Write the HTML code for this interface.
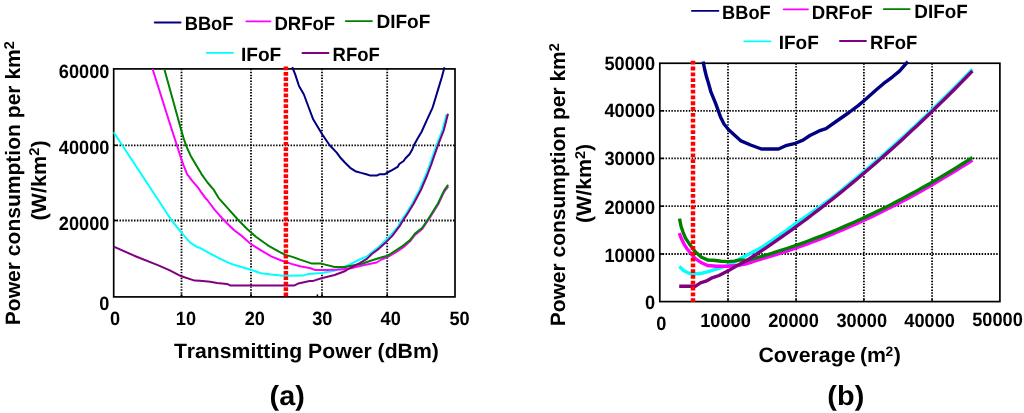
<!DOCTYPE html>
<html><head><meta charset="utf-8"><title>Power consumption charts</title>
<style>
html,body{margin:0;padding:0;background:#fff;}
body{width:1024px;height:413px;overflow:hidden;}
svg{display:block;will-change:transform;}
text{font-family:"Liberation Sans", sans-serif;font-weight:bold;fill:#000;text-rendering:geometricPrecision;font-kerning:none;font-feature-settings:'kern' 0;}
.grid{stroke:#000;stroke-width:1.8;stroke-dasharray:1.45 1.45;}
.tick{stroke:#000;stroke-width:1.5;}
</style></head>
<body>
<svg width="1024" height="413" viewBox="0 0 1024 413">
<rect x="0" y="0" width="1024" height="413" fill="#fff"/>
<line x1="181.5" y1="68.9" x2="181.5" y2="296.9" class="grid"/>
<line x1="181.5" y1="296.9" x2="181.5" y2="294.1" class="tick"/>
<line x1="251.0" y1="68.9" x2="251.0" y2="296.9" class="grid"/>
<line x1="251.0" y1="296.9" x2="251.0" y2="294.1" class="tick"/>
<line x1="322.0" y1="68.9" x2="322.0" y2="296.9" class="grid"/>
<line x1="322.0" y1="296.9" x2="322.0" y2="294.1" class="tick"/>
<line x1="387.2" y1="68.9" x2="387.2" y2="296.9" class="grid"/>
<line x1="387.2" y1="296.9" x2="387.2" y2="294.1" class="tick"/>
<line x1="113.7" y1="145.3" x2="455.0" y2="145.3" class="grid"/>
<line x1="113.7" y1="145.3" x2="117.2" y2="145.3" class="tick"/>
<line x1="113.7" y1="220.5" x2="455.0" y2="220.5" class="grid"/>
<line x1="113.7" y1="220.5" x2="117.2" y2="220.5" class="tick"/>
<line x1="317.4" y1="296.9" x2="317.4" y2="294.4" class="tick"/>
<rect x="113.7" y="68.9" width="341.30" height="228.00" fill="none" stroke="#000" stroke-width="1.7"/>
<polyline points="292.3,67.2 295.2,74.4 299.0,86.0 303.9,94.5 308.9,108.0 313.3,119.6 322.0,134.1 329.5,145.0 336.7,152.6 340.0,157.2 345.1,162.7 350.2,167.8 355.3,171.2 361.2,172.9 366.3,174.2 369.7,175.4 377.3,175.4 379.8,174.2 384.9,174.2 387.5,172.5 392.5,169.9 397.6,166.9 399.3,164.0 403.6,161.0 405.3,158.5 409.5,154.2 412.0,150.0 413.9,145.3 417.9,138.0 421.5,132.0 427.3,119.1 432.7,107.3 438.2,89.1 441.8,77.3 444.5,67.3" fill="none" stroke="#000080" stroke-width="2.0" stroke-linejoin="round" stroke-linecap="butt"/>
<polyline points="113.7,132.3 171.7,220.5 181.5,232.7 189.9,242.4 197.2,247.2 200.0,247.8 210.2,253.7 220.3,258.8 230.5,263.6 240.7,266.8 250.8,269.8 261.0,273.2 271.2,274.6 283.0,275.8 302.9,275.6 308.7,273.9 321.3,273.0 333.3,271.0 344.0,267.0 350.0,264.3 359.7,259.5 366.9,256.5 371.8,252.2 379.0,246.8 386.3,239.5 392.3,233.5 398.4,226.2 399.7,223.0 406.3,213.2 412.1,203.8 419.4,190.0 425.8,175.0 429.7,164.6 436.4,145.3 442.4,130.0 446.5,114.5" fill="none" stroke="#00ffff" stroke-width="2.0" stroke-linejoin="round" stroke-linecap="butt"/>
<polyline points="152.6,69.0 171.9,130.0 176.9,145.3 181.2,158.8 183.7,165.6 187.1,174.1 192.2,180.8 198.1,187.6 201.5,192.7 205.8,198.6 207.3,200.0 214.5,209.6 224.2,220.5 233.9,230.0 240.7,235.1 250.8,244.0 261.0,250.3 271.2,256.3 281.4,260.5 291.5,263.9 300.0,266.3 310.7,268.3 314.6,269.9 326.6,269.9 340.0,269.4 350.0,268.5 362.1,265.5 376.6,262.5 381.5,259.5 387.5,257.1 396.0,252.2 403.2,247.4 410.0,241.3 415.0,235.0 422.3,229.0 430.0,217.5 438.1,204.5 443.9,192.2 448.3,186.5" fill="none" stroke="#ff00ff" stroke-width="2.0" stroke-linejoin="round" stroke-linecap="butt"/>
<polyline points="164.3,69.0 181.2,130.0 183.7,138.5 186.3,146.1 190.5,155.4 196.4,165.6 201.5,174.1 207.5,182.5 213.4,189.3 218.5,197.8 229.0,209.6 238.7,220.5 247.2,229.0 255.9,236.8 267.8,245.3 278.0,251.2 284.7,254.6 293.2,257.1 300.0,259.6 312.0,263.6 321.3,263.6 334.6,267.0 345.3,267.0 350.0,266.1 362.1,263.7 370.6,260.7 380.2,257.7 387.5,255.8 396.0,250.4 403.2,245.6 410.0,240.1 415.0,233.6 422.3,227.8 430.0,216.2 438.1,203.2 443.9,190.9 448.1,184.7" fill="none" stroke="#008000" stroke-width="2.0" stroke-linejoin="round" stroke-linecap="butt"/>
<polyline points="113.7,246.7 134.2,255.7 158.4,265.4 169.3,270.2 181.4,276.3 194.7,280.6 200.0,280.8 210.2,281.7 217.0,283.0 227.1,283.9 230.5,285.6 294.0,285.6 298.1,283.6 302.9,282.6 309.7,281.1 313.3,280.9 321.3,278.3 334.6,275.0 345.3,271.0 350.0,268.0 359.7,263.1 366.9,258.9 371.8,254.0 379.0,248.6 386.3,241.9 392.3,235.9 399.6,226.2 401.2,223.4 407.8,213.2 413.6,203.8 420.9,190.0 427.3,175.0 431.2,164.6 437.9,145.3 443.9,130.0 448.0,113.7" fill="none" stroke="#800080" stroke-width="2.0" stroke-linejoin="round" stroke-linecap="butt"/>
<line x1="285.9" y1="66.6" x2="285.9" y2="297.2" stroke="#ff0000" stroke-width="4.5" stroke-dasharray="3.7 1.68"/>
<line x1="728.0" y1="63.25" x2="728.0" y2="301.6" class="grid"/>
<line x1="728.0" y1="301.6" x2="728.0" y2="298.8" class="tick"/>
<line x1="796.1" y1="63.25" x2="796.1" y2="301.6" class="grid"/>
<line x1="796.1" y1="301.6" x2="796.1" y2="298.8" class="tick"/>
<line x1="863.9" y1="63.25" x2="863.9" y2="301.6" class="grid"/>
<line x1="863.9" y1="301.6" x2="863.9" y2="298.8" class="tick"/>
<line x1="932.1" y1="63.25" x2="932.1" y2="301.6" class="grid"/>
<line x1="932.1" y1="301.6" x2="932.1" y2="298.8" class="tick"/>
<line x1="659.8" y1="110.8" x2="999.9" y2="110.8" class="grid"/>
<line x1="659.8" y1="110.8" x2="663.3" y2="110.8" class="tick"/>
<line x1="659.8" y1="158.4" x2="999.9" y2="158.4" class="grid"/>
<line x1="659.8" y1="158.4" x2="663.3" y2="158.4" class="tick"/>
<line x1="659.8" y1="206.2" x2="999.9" y2="206.2" class="grid"/>
<line x1="659.8" y1="206.2" x2="663.3" y2="206.2" class="tick"/>
<line x1="659.8" y1="254.0" x2="999.9" y2="254.0" class="grid"/>
<line x1="659.8" y1="254.0" x2="663.3" y2="254.0" class="tick"/>
<rect x="659.8" y="63.25" width="340.10" height="238.35" fill="none" stroke="#000" stroke-width="1.7"/>
<polyline points="703.1,61.5 704.7,69.5 706.5,76.8 708.7,84.0 710.7,91.3 715.6,103.4 720.4,116.7 724.0,124.0 728.9,130.0 741.0,140.9 750.6,145.0 761.5,149.0 778.5,149.0 785.7,145.7 795.4,143.3 803.0,140.1 809.9,135.5 819.1,130.9 826.0,128.6 837.5,120.5 849.0,112.5 858.2,105.6 865.1,99.8 876.6,89.5 883.4,83.7 892.6,76.8 899.5,71.1 907.8,61.7" fill="none" stroke="#000080" stroke-width="3.4" stroke-linejoin="round" stroke-linecap="butt"/>
<polyline points="679.4,266.5 683.5,270.4 689.0,273.2 695.0,273.9 701.5,273.3 708.1,271.7 716.8,269.0 727.7,265.5 735.9,261.0 746.8,255.2 757.7,249.4 761.8,247.3 766.8,244.0 771.8,240.6 776.8,237.1 781.8,233.6 786.8,230.1 791.8,226.5 796.8,222.9 801.8,219.3 806.8,215.9 811.8,212.4 816.8,208.9 821.8,205.3 826.8,201.7 831.8,198.0 836.8,194.0 841.8,190.0 846.8,185.9 851.8,181.8 856.8,177.6 861.8,173.4 866.8,169.2 871.8,164.9 876.8,160.6 881.8,156.2 886.8,151.8 891.8,147.3 896.8,142.8 901.8,138.3 906.8,133.7 911.8,129.0 916.8,124.4 921.8,119.6 926.8,114.9 931.8,110.1 936.8,105.2 941.8,100.3 946.8,95.4 951.8,90.4 956.8,85.4 961.8,80.3 966.8,75.2 971.8,70.0 972.4,69.4" fill="none" stroke="#00ffff" stroke-width="3.4" stroke-linejoin="round" stroke-linecap="butt"/>
<polyline points="679.2,233.2 681.6,239.1 684.5,244.9 687.0,248.7 690.5,253.0 695.0,258.3 701.5,262.8 707.5,265.5 716.8,266.2 727.7,266.2 738.6,265.2 745.0,264.1 752.0,262.0 756.8,260.3 761.8,258.9 766.8,257.4 771.8,255.9 776.8,254.3 781.8,252.7 786.8,251.1 791.8,249.4 796.8,247.7 801.8,245.9 806.8,244.1 811.8,242.2 816.8,240.3 821.8,238.4 826.8,236.4 831.8,234.4 836.8,232.3 841.8,230.2 846.8,228.0 851.8,225.8 856.8,223.6 861.8,221.3 866.8,219.0 871.8,216.6 876.8,214.2 881.8,211.8 886.8,209.3 891.8,206.8 896.8,204.2 901.8,201.6 906.8,198.9 911.8,196.2 916.8,193.5 921.8,190.7 926.8,187.8 931.8,185.0 936.8,182.1 941.8,179.1 946.8,176.1 951.8,173.1 956.8,170.0 961.8,166.8 966.8,163.7 971.8,160.5 972.4,160.1" fill="none" stroke="#ff00ff" stroke-width="3.4" stroke-linejoin="round" stroke-linecap="butt"/>
<polyline points="679.5,218.7 681.1,226.5 683.1,232.3 685.5,238.1 689.4,243.9 692.3,247.8 695.0,251.5 701.5,257.3 708.1,260.1 713.5,260.3 721.1,261.3 727.7,261.6 734.2,261.1 740.8,259.9 746.8,260.4 751.8,259.1 756.8,257.7 761.8,256.3 766.8,254.8 771.8,253.3 776.8,251.7 781.8,250.1 786.8,248.5 791.8,246.8 796.8,245.1 801.8,243.3 806.8,241.5 811.8,239.6 816.8,237.7 821.8,235.8 826.8,233.8 831.8,231.8 836.8,229.7 841.8,227.6 846.8,225.4 851.8,223.2 856.8,221.0 861.8,218.7 866.8,216.4 871.8,214.0 876.8,211.6 881.8,209.2 886.8,206.7 891.8,204.2 896.8,201.6 901.8,199.0 906.8,196.3 911.8,193.6 916.8,190.9 921.8,188.1 926.8,185.2 931.8,182.4 936.8,179.5 941.8,176.5 946.8,173.5 951.8,170.5 956.8,167.4 961.8,164.2 966.8,161.1 971.8,157.9 972.4,157.5" fill="none" stroke="#008000" stroke-width="3.4" stroke-linejoin="round" stroke-linecap="butt"/>
<polyline points="679.2,286.3 695.2,286.3 700.4,282.8 705.9,281.2 711.3,278.2 719.0,275.5 727.7,271.1 735.9,266.3 746.8,260.5 751.8,257.2 756.8,254.0 761.8,250.6 766.8,247.3 771.8,243.9 776.8,240.4 781.8,236.9 786.8,233.4 791.8,229.8 796.8,226.2 801.8,222.5 806.8,218.8 811.8,215.0 816.8,211.2 821.8,207.4 826.8,203.5 831.8,199.6 836.8,195.6 841.8,191.6 846.8,187.5 851.8,183.4 856.8,179.2 861.8,175.0 866.8,170.8 871.8,166.5 876.8,162.2 881.8,157.8 886.8,153.4 891.8,148.9 896.8,144.4 901.8,139.9 906.8,135.3 911.8,130.6 916.8,126.0 921.8,121.2 926.8,116.5 931.8,111.7 936.8,106.8 941.8,101.9 946.8,97.0 951.8,92.0 956.8,87.0 961.8,81.9 966.8,76.8 971.8,71.6 972.4,71.0" fill="none" stroke="#800080" stroke-width="3.4" stroke-linejoin="round" stroke-linecap="butt"/>
<line x1="693.0" y1="60.8" x2="693.0" y2="302.6" stroke="#ff0000" stroke-width="4.5" stroke-dasharray="3.8 1.99"/>
<line x1="154.7" y1="22.5" x2="180.6" y2="22.5" stroke="#000080" stroke-width="1.8" stroke-linecap="round"/>
<text transform="translate(185.90,29.95) scale(0.9533,1)" x="-1.28" font-size="19.2">BBoF</text>
<line x1="246.3" y1="21.3" x2="270.5" y2="21.3" stroke="#ff00ff" stroke-width="1.8" stroke-linecap="round"/>
<text transform="translate(275.60,30.15) scale(0.9667,1)" x="-1.28" font-size="19.2">DRFoF</text>
<line x1="345.7" y1="21.1" x2="372.0" y2="21.1" stroke="#008000" stroke-width="1.8" stroke-linecap="round"/>
<text transform="translate(377.70,28.45) scale(0.9924,1)" x="-1.28" font-size="19.2">DIFoF</text>
<line x1="206.7" y1="52.8" x2="233.1" y2="52.8" stroke="#00ffff" stroke-width="1.8" stroke-linecap="round"/>
<text transform="translate(242.20,60.80) scale(0.9966,1)" x="-1.28" font-size="19.2">IFoF</text>
<line x1="302.4" y1="53.0" x2="328.5" y2="53.0" stroke="#800080" stroke-width="1.8" stroke-linecap="round"/>
<text transform="translate(333.80,60.75) scale(0.9625,1)" x="-1.28" font-size="19.2">RFoF</text>
<line x1="691.9" y1="10.8" x2="718.5" y2="10.8" stroke="#000080" stroke-width="1.8" stroke-linecap="round"/>
<text transform="translate(723.30,19.25) scale(0.9492,1)" x="-1.28" font-size="19.2">BBoF</text>
<line x1="783.6" y1="9.3" x2="808.0" y2="9.3" stroke="#ff00ff" stroke-width="1.8" stroke-linecap="round"/>
<text transform="translate(813.00,19.35) scale(0.9667,1)" x="-1.28" font-size="19.2">DRFoF</text>
<line x1="883.8" y1="9.2" x2="909.6" y2="9.2" stroke="#008000" stroke-width="1.8" stroke-linecap="round"/>
<text transform="translate(915.60,18.25) scale(0.9810,1)" x="-1.28" font-size="19.2">DIFoF</text>
<line x1="744.2" y1="41.3" x2="770.5" y2="41.3" stroke="#00ffff" stroke-width="1.8" stroke-linecap="round"/>
<text transform="translate(780.00,49.25) scale(0.9888,1)" x="-1.28" font-size="19.2">IFoF</text>
<line x1="839.9" y1="41.0" x2="866.0" y2="41.0" stroke="#800080" stroke-width="1.8" stroke-linecap="round"/>
<text transform="translate(871.30,49.15) scale(0.9625,1)" x="-1.28" font-size="19.2">RFoF</text>
<text transform="translate(109.45,77.50) scale(0.9479,1)" font-size="19.2" text-anchor="end">60000</text>
<text transform="translate(109.45,153.70) scale(0.9479,1)" font-size="19.2" text-anchor="end">40000</text>
<text transform="translate(109.45,229.70) scale(0.9479,1)" font-size="19.2" text-anchor="end">20000</text>
<text transform="translate(109.45,309.60) scale(0.9479,1)" font-size="19.2" text-anchor="end">0</text>
<text transform="translate(115.11,324.60) scale(0.9479,1)" font-size="19.2" text-anchor="middle">0</text>
<text transform="translate(185.90,324.60) scale(0.9479,1)" font-size="19.2" text-anchor="middle">10</text>
<text transform="translate(254.76,324.60) scale(0.9479,1)" font-size="19.2" text-anchor="middle">20</text>
<text transform="translate(322.26,324.60) scale(0.9479,1)" font-size="19.2" text-anchor="middle">30</text>
<text transform="translate(390.74,324.60) scale(0.9479,1)" font-size="19.2" text-anchor="middle">40</text>
<text transform="translate(459.59,324.60) scale(0.9479,1)" font-size="19.2" text-anchor="middle">50</text>
<text transform="translate(655.05,69.60) scale(0.9479,1)" font-size="19.2" text-anchor="end">50000</text>
<text transform="translate(655.05,117.30) scale(0.9479,1)" font-size="19.2" text-anchor="end">40000</text>
<text transform="translate(655.05,165.00) scale(0.9479,1)" font-size="19.2" text-anchor="end">30000</text>
<text transform="translate(655.05,213.70) scale(0.9479,1)" font-size="19.2" text-anchor="end">20000</text>
<text transform="translate(655.05,261.60) scale(0.9479,1)" font-size="19.2" text-anchor="end">10000</text>
<text transform="translate(655.05,309.10) scale(0.9479,1)" font-size="19.2" text-anchor="end">0</text>
<text transform="translate(661.41,329.80) scale(0.9479,1)" font-size="19.2" text-anchor="middle">0</text>
<text transform="translate(725.50,326.70) scale(0.9479,1)" font-size="19.2" text-anchor="middle">10000</text>
<text transform="translate(793.46,326.70) scale(0.9479,1)" font-size="19.2" text-anchor="middle">20000</text>
<text transform="translate(861.76,326.70) scale(0.9479,1)" font-size="19.2" text-anchor="middle">30000</text>
<text transform="translate(929.64,326.70) scale(0.9479,1)" font-size="19.2" text-anchor="middle">40000</text>
<text transform="translate(997.54,326.30) scale(0.9479,1)" font-size="19.2" text-anchor="middle">50000</text>
<text transform="translate(174.1,358.0) scale(1.0190,1)" x="-0.23" font-size="20.8">Transmitting Power (dBm)</text>
<text transform="translate(759.3,361.6) scale(1.0250,1)" x="-0.85" font-size="20.8">Coverage<tspan dx="-1.5"> (m</tspan><tspan font-size="13.5" dy="-6" dx="-0.6">2</tspan><tspan dy="6" dx="0.6">)</tspan></text>
<text transform="translate(19.9,323.8) rotate(-90) scale(1.0120,1)" x="-1.39" font-size="20.8">Power consumption per km<tspan font-size="14.2" dy="-6.2">2</tspan></text>
<text transform="translate(45.5,219.5) rotate(-90) scale(1.0380,1)" x="-1.04" font-size="20.8">(W/km<tspan font-size="14.2" dy="-6.2">2</tspan><tspan dy="6.2">)</tspan></text>
<text transform="translate(564.8,324.9) rotate(-90) scale(1.0086,1)" x="-1.39" font-size="20.8">Power consumption per km<tspan font-size="14.2" dy="-6.2">2</tspan></text>
<text transform="translate(590.8,222.0) rotate(-90) scale(1.0270,1)" x="-1.04" font-size="20.8">(W/km<tspan font-size="14.2" dy="-6.2">2</tspan><tspan dy="6.2">)</tspan></text>
<text transform="translate(271.0,404.6) scale(1.0470,1)" x="-1.37" font-size="27.5">(a)</text>
<text transform="translate(828.8,404.6) scale(1.0500,1)" x="-1.37" font-size="27.5">(b)</text>
</svg>
</body></html>
